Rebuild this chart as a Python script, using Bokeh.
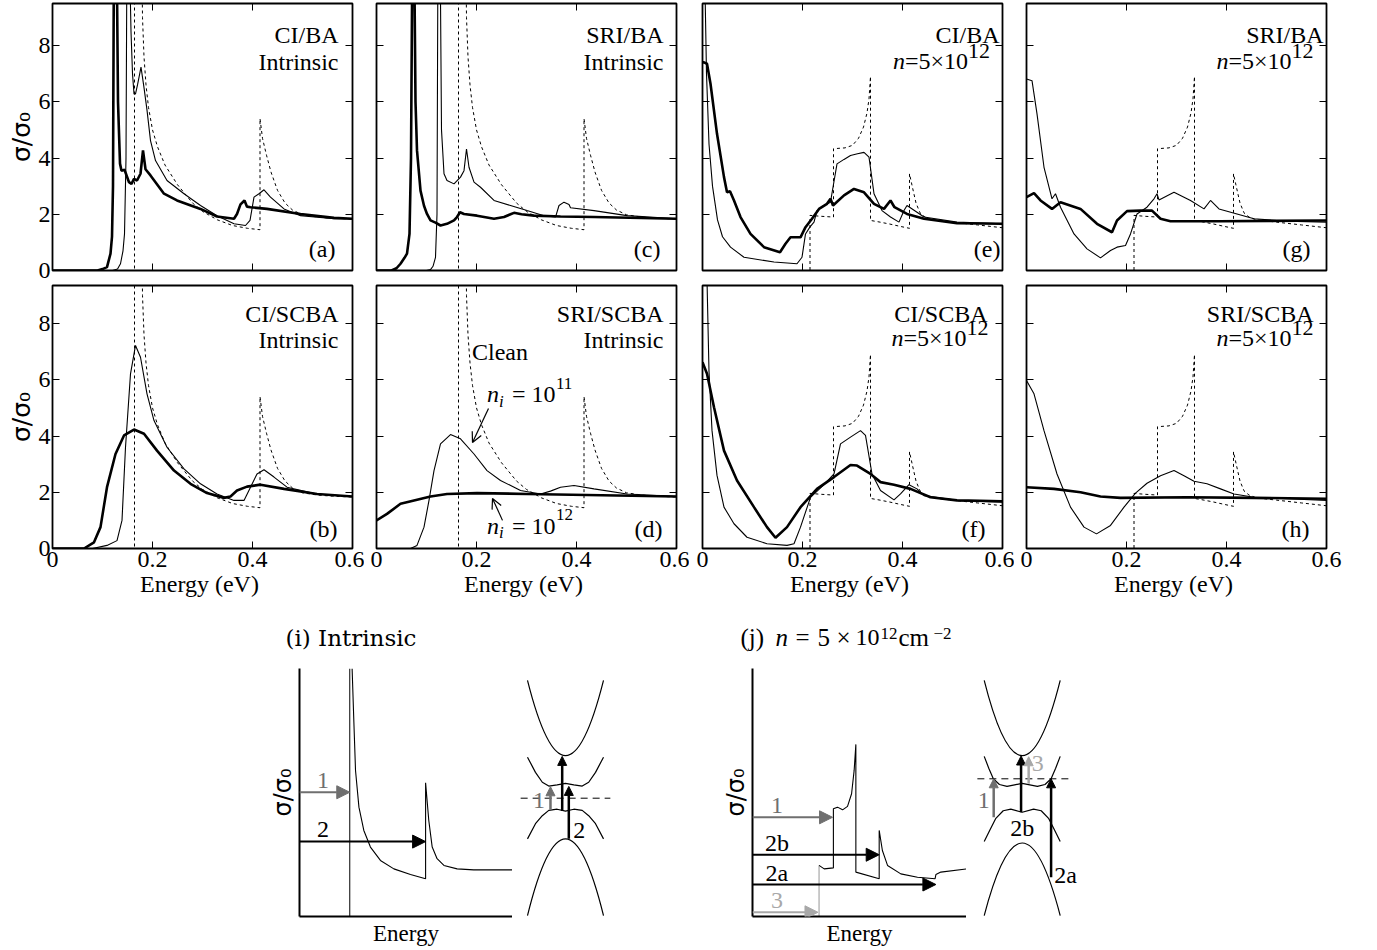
from bokeh.plotting import figure
from bokeh.models import (LinearAxis, FixedTicker, Range1d, Arrow, NormalHead, OpenHead,
                          Label, Spacer, CustomJSTickFormatter)
from bokeh.layouts import row, column
from bokeh.embed import file_html
from bokeh.resources import INLINE

SERIF = "Liberation Serif"
TSERIF = "DejaVu Serif"
SANS = "DejaVu Sans"
GRAY1 = "#6f6f6f"
GRAY3 = "#a8a8a8"

# ---------------------------------------------------------------- data
energy_ticks = [0, 0.2, 0.4, 0.6]
sigma_ticks = [0, 2, 4, 6, 8]

# clean (dashed) curves
clean_int_x = [0.0, 0.164, 0.164, 0.178, 0.178, 0.180, 0.183, 0.187, 0.192, 0.200, 0.210, 0.225, 0.250,
               0.280, 0.300, 0.330, 0.360, 0.390, 0.415, 0.415, 0.420, 0.428, 0.437, 0.450, 0.465, 0.480,
               0.500, 0.530, 0.560, 0.600]
clean_int_y = [0.0, 0.0, 12.0, 12.0, 12.0, 9.0, 7.6, 6.6, 5.8, 5.0, 4.4, 3.75, 3.05,
               2.4, 2.1, 1.8, 1.6, 1.5, 1.45, 5.4, 4.7, 4.1, 3.5, 2.85, 2.4, 2.15,
               1.98, 1.9, 1.86, 1.83]
clean_dop_x = [0.0, 0.215, 0.215, 0.235, 0.262, 0.262, 0.285, 0.300, 0.312, 0.322, 0.329, 0.333, 0.336,
               0.336, 0.355, 0.375, 0.395, 0.414, 0.414, 0.420, 0.427, 0.435, 0.445, 0.460, 0.500, 0.550, 0.600]
clean_dop_y = [0.0, 0.0, 1.96, 1.93, 1.90, 4.33, 4.36, 4.45, 4.7, 5.1, 5.6, 6.1, 6.9,
               1.78, 1.72, 1.65, 1.57, 1.50, 3.44, 2.95, 2.4, 2.05, 1.9, 1.8, 1.72, 1.62, 1.52]

# (a) CI/BA intrinsic
a_thick_x = [0, 0.09, 0.1, 0.109, 0.116, 0.119, 0.121, 0.123, 0.128, 0.131, 0.135, 0.138, 0.144, 0.153,
             0.158, 0.163, 0.169, 0.176, 0.181, 0.186, 0.196, 0.206, 0.223, 0.249, 0.296, 0.329, 0.363,
             0.369, 0.376, 0.384, 0.389, 0.396, 0.429, 0.496, 0.563, 0.6]
a_thick_y = [0, 0, 0.05, 0.12, 0.6, 1.2, 3.0, 12, 12, 6.0, 3.8, 3.55, 3.58, 3.14,
             3.08, 3.26, 3.2, 3.44, 4.27, 3.6, 3.38, 3.14, 2.73, 2.49, 2.19, 1.92, 1.84,
             2.01, 2.35, 2.49, 2.27, 2.25, 2.19, 2.01, 1.87, 1.84]
a_thin_x = [0, 0.12, 0.13, 0.136, 0.141, 0.144, 0.147, 0.149, 0.153, 0.157, 0.16, 0.163, 0.166, 0.17,
            0.173, 0.177, 0.183, 0.189, 0.196, 0.206, 0.229, 0.263, 0.296, 0.329, 0.363, 0.386, 0.395,
            0.403, 0.413, 0.423, 0.436, 0.463, 0.496, 0.563, 0.6]
a_thin_y = [0, 0, 0.05, 0.24, 0.7, 1.3, 4.0, 12, 12, 8.5, 7.0, 6.28, 6.28, 6.6,
            6.87, 7.23, 6.5, 5.7, 4.62, 3.91, 3.2, 2.73, 2.31, 1.95, 1.66, 1.6, 1.78,
            2.61, 2.73, 2.87, 2.61, 2.19, 1.95, 1.84, 1.84]

# (c) SRI/BA intrinsic
c_thick_x = [0, 0.03, 0.04, 0.048, 0.056, 0.061, 0.066, 0.069, 0.072, 0.075, 0.078, 0.081, 0.088, 0.095,
             0.101, 0.108, 0.118, 0.128, 0.141, 0.155, 0.161, 0.167, 0.175, 0.201, 0.235, 0.255, 0.268,
             0.275, 0.29, 0.315, 0.368, 0.435, 0.6]
c_thick_y = [0, 0, 0.08, 0.24, 0.45, 0.6, 1.3, 4.0, 12, 12, 6.0, 4.27, 2.84, 2.3,
             2.01, 1.78, 1.7, 1.6, 1.66, 1.78, 1.9, 2.07, 2.01, 1.95, 1.84, 1.9, 2.0,
             2.05, 2.0, 1.95, 1.92, 1.9, 1.84]
c_thin_x = [0, 0.1, 0.108, 0.113, 0.118, 0.121, 0.123, 0.127, 0.13, 0.135, 0.141, 0.155, 0.168, 0.175,
            0.18, 0.185, 0.195, 0.208, 0.235, 0.268, 0.301, 0.335, 0.358, 0.365, 0.375, 0.385, 0.388,
            0.435, 0.501, 0.6]
c_thin_y = [0, 0, 0.03, 0.15, 0.47, 2.0, 12, 12, 5.0, 3.44, 3.2, 3.08, 3.32, 3.55,
            4.32, 3.67, 3.14, 2.96, 2.49, 2.31, 2.13, 1.95, 1.9, 2.31, 2.43, 2.35, 2.23,
            2.13, 1.95, 1.84]

# (e) CI/BA doped
e_thick_x = [0.0, 0.003, 0.009, 0.016, 0.029, 0.043, 0.049, 0.055, 0.063, 0.076, 0.096, 0.123, 0.155,
             0.166, 0.176, 0.196, 0.206, 0.219, 0.233, 0.249, 0.256, 0.261, 0.283, 0.303, 0.323, 0.343,
             0.363, 0.376, 0.384, 0.409, 0.443, 0.509, 0.6]
e_thick_y = [7.4, 7.4, 7.35, 6.64, 4.86, 3.32, 2.78, 2.82, 2.49, 1.9, 1.3, 0.83, 0.65,
             0.95, 1.18, 1.18, 1.54, 1.84, 2.19, 2.37, 2.55, 2.31, 2.67, 2.9, 2.78, 2.37,
             2.19, 2.49, 2.25, 2.01, 1.84, 1.68, 1.66]
e_thin_x = [0.003, 0.008, 0.013, 0.02, 0.03, 0.04, 0.056, 0.083, 0.143, 0.189, 0.199, 0.206, 0.215,
            0.223, 0.229, 0.243, 0.256, 0.261, 0.269, 0.283, 0.296, 0.31, 0.323, 0.333, 0.343, 0.359,
            0.376, 0.393, 0.403, 0.409, 0.429, 0.443, 0.509, 0.6]
e_thin_y = [12, 7.0, 4.5, 3.0, 1.8, 1.2, 0.83, 0.47, 0.3, 0.24, 0.47, 1.3, 1.55,
            1.72, 2.13, 2.31, 2.43, 2.96, 3.79, 3.95, 4.09, 4.15, 4.2, 4.03, 2.73, 2.13,
            1.9, 1.72, 2.13, 2.31, 2.07, 1.9, 1.72, 1.66]

# (g) SRI/BA doped
g_thick_x = [0.0, 0.015, 0.028, 0.051, 0.068, 0.108, 0.141, 0.171, 0.181, 0.201, 0.228, 0.251, 0.268,
             0.288, 0.388, 0.6]
g_thick_y = [2.61, 2.75, 2.49, 2.19, 2.43, 2.19, 1.66, 1.36, 1.78, 2.11, 2.13, 2.13, 1.84,
             1.75, 1.75, 1.78]
g_thin_x = [0.0, 0.011, 0.021, 0.035, 0.051, 0.058, 0.068, 0.095, 0.121, 0.148, 0.168, 0.181, 0.198,
            0.208, 0.221, 0.241, 0.255, 0.261, 0.265, 0.295, 0.328, 0.355, 0.368, 0.385, 0.421, 0.455,
            0.521, 0.6]
g_thin_y = [6.81, 6.75, 5.57, 3.67, 2.55, 2.73, 2.25, 1.3, 0.77, 0.45, 0.71, 0.83, 0.89,
            1.3, 2.01, 2.25, 2.55, 2.73, 2.51, 2.78, 2.49, 2.19, 2.49, 2.19, 2.01, 1.84,
            1.75, 1.72]

# (b) CI/SCBA intrinsic
b_thick_x = [0, 0.063, 0.083, 0.096, 0.109, 0.126, 0.143, 0.163, 0.183, 0.209, 0.243, 0.276, 0.309,
             0.343, 0.356, 0.369, 0.389, 0.416, 0.463, 0.529, 0.6]
b_thick_y = [0, 0, 0.22, 0.76, 2.18, 3.36, 4.02, 4.23, 4.08, 3.48, 2.77, 2.3, 1.97,
             1.8, 1.85, 2.06, 2.2, 2.27, 2.12, 1.94, 1.85]
b_thin_x = [0, 0.08, 0.109, 0.129, 0.139, 0.146, 0.156, 0.166, 0.176, 0.189, 0.203, 0.229, 0.263,
            0.296, 0.329, 0.363, 0.383, 0.396, 0.409, 0.423, 0.443, 0.469, 0.529, 0.6]
b_thin_y = [0, 0, 0.11, 0.28, 1.0, 3.6, 6.21, 7.22, 6.8, 5.5, 4.55, 3.6, 2.83,
            2.3, 1.94, 1.71, 1.71, 2.18, 2.65, 2.8, 2.54, 2.18, 1.94, 1.85]

# (d) SRI/SCBA intrinsic
d_thick_x = [0, 0.021, 0.048, 0.075, 0.108, 0.141, 0.201, 0.301, 0.6]
d_thick_y = [1.0, 1.23, 1.59, 1.71, 1.85, 1.94, 1.97, 1.94, 1.85]
d_thin_x = [0, 0.068, 0.081, 0.095, 0.105, 0.115, 0.128, 0.148, 0.168, 0.195, 0.221, 0.248, 0.288,
            0.328, 0.348, 0.368, 0.395, 0.435, 0.501, 0.6]
d_thin_y = [0, 0, 0.11, 0.76, 1.71, 2.77, 3.72, 4.05, 3.9, 3.36, 2.77, 2.42, 2.06,
            1.94, 2.04, 2.18, 2.24, 2.12, 1.94, 1.85]

# (f) CI/SCBA doped
f_thick_x = [0, 0.009, 0.023, 0.043, 0.069, 0.103, 0.129, 0.146, 0.169, 0.196, 0.229, 0.263, 0.296,
             0.309, 0.336, 0.356, 0.383, 0.416, 0.456, 0.509, 0.6]
f_thick_y = [6.62, 6.21, 5.02, 3.48, 2.42, 1.47, 0.76, 0.38, 0.76, 1.47, 2.12, 2.54, 2.97,
             2.95, 2.65, 2.36, 2.27, 2.12, 1.82, 1.71, 1.68]
f_thin_x = [0.006, 0.013, 0.019, 0.029, 0.043, 0.063, 0.089, 0.129, 0.169, 0.183, 0.196, 0.216, 0.243,
            0.263, 0.276, 0.296, 0.316, 0.326, 0.339, 0.356, 0.383, 0.396, 0.413, 0.429, 0.443, 0.509, 0.6]
f_thin_y = [12, 6.3, 4.2, 2.6, 1.47, 0.88, 0.4, 0.17, 0.11, 0.17, 0.76, 1.82, 2.27,
            2.65, 3.72, 3.96, 4.19, 4.02, 2.65, 2.06, 1.73, 1.94, 2.27, 2.12, 1.88, 1.71, 1.65]

# (h) SRI/SCBA doped
h_thick_x = [0, 0.055, 0.108, 0.148, 0.188, 0.321, 0.455, 0.6]
h_thick_y = [2.18, 2.12, 2.0, 1.85, 1.8, 1.82, 1.8, 1.77]
h_thin_x = [0, 0.015, 0.035, 0.061, 0.088, 0.115, 0.14, 0.168, 0.195, 0.218, 0.241, 0.268, 0.295,
            0.315, 0.335, 0.361, 0.388, 0.415, 0.455, 0.521, 0.6]
h_thin_y = [5.97, 5.5, 4.19, 2.65, 1.47, 0.76, 0.52, 0.82, 1.47, 1.97, 2.32, 2.59, 2.77,
            2.59, 2.39, 2.3, 2.12, 1.94, 1.82, 1.77, 1.71]

# schematic (i): sigma vs energy (normalised units)
si_delta_x = [0.236, 0.236]
si_delta_y = [0.0, 1.0]
si_curve_x = [0.247, 0.255, 0.263, 0.279, 0.302, 0.333, 0.38, 0.443, 0.521, 0.592, 0.592, 0.607, 0.623,
              0.646, 0.678, 0.74, 0.818, 1.0]
si_curve_y = [1.0, 0.79, 0.589, 0.441, 0.347, 0.28, 0.226, 0.192, 0.169, 0.152, 0.539, 0.387, 0.28,
              0.233, 0.206, 0.192, 0.188, 0.188]
si_arrow_y = [0.501, 0.302]
si_arrow_end = [0.236, 0.592]
si_arrow_lbl = ["1", "2"]
si_arrow_col = [GRAY1, "black"]

# schematic (j)
sj_step_x = [0.311, 0.311]
sj_step_y = [0.0, 0.206]
sj_curve_x = [0.311, 0.335, 0.378, 0.378, 0.397, 0.421, 0.444, 0.463, 0.475, 0.483, 0.483, 0.592, 0.592,
              0.607, 0.631, 0.693, 0.771, 0.853, 0.857, 0.88, 1.0]
sj_curve_y = [0.206, 0.192, 0.196, 0.434, 0.441, 0.43, 0.444, 0.495, 0.589, 0.694, 0.179, 0.152, 0.347,
              0.266, 0.206, 0.172, 0.158, 0.152, 0.169, 0.179, 0.192]
sj_arrow_y = [0.4, 0.249, 0.129, 0.017]
sj_arrow_end = [0.374, 0.592, 0.857, 0.306]
sj_arrow_lbl = ["1", "2b", "2a", "3"]
sj_arrow_col = [GRAY1, "black", "black", GRAY3]

# band diagrams (k, E)
bi_mid_k = [-1.0, -0.79, -0.61, -0.44, -0.22, 0.0, 0.22, 0.44, 0.61, 0.79, 1.0]
bi_cond2_E = [1.08, 0.68, 0.42, 0.32, 0.35, 0.39, 0.35, 0.32, 0.42, 0.68, 1.08]
bi_val2_E = [-1.07, -0.67, -0.46, -0.32, -0.29, -0.34, -0.29, -0.32, -0.46, -0.67, -1.07]
bi_cond1 = dict(end_k=1.0, end_E=3.1, ctrl_E=-0.86)
bi_val1 = dict(end_k=1.0, end_E=-3.09, ctrl_E=0.95)

bj_cond2_k = [-1.0, -0.88, -0.76, -0.6, -0.4, -0.2, 0.0, 0.2, 0.4, 0.6, 0.76, 0.88, 1.0]
bj_cond2_E = [0.59, 0.28, 0.0, -0.15, -0.2, -0.16, -0.12, -0.16, -0.2, -0.15, 0.0, 0.28, 0.59]
bj_val2_k = [-1.0, -0.85, -0.7, -0.5, -0.3, 0.0, 0.3, 0.5, 0.7, 0.85, 1.0]
bj_val2_E = [-1.65, -1.35, -1.05, -0.84, -0.8, -0.88, -0.8, -0.84, -1.05, -1.35, -1.65]
bj_cond1 = dict(end_k=1.0, end_E=2.59, ctrl_E=-1.37)
bj_val1 = dict(end_k=1.0, end_E=-3.6, ctrl_E=0.22)

# ---------------------------------------------------------------- helpers
PX_X = 500.0     # px per eV
PX_Y = 28.125    # px per sigma unit


def tick_style(ax, show, fmt=None):
    ax.major_tick_in = 7
    ax.major_tick_out = 0
    ax.major_tick_line_color = "black"
    ax.major_tick_line_width = 1
    ax.minor_tick_line_color = None
    ax.axis_line_color = None
    if show:
        ax.major_label_text_font = SERIF
        ax.major_label_text_font_size = "24px"
        ax.major_label_text_color = "black"
        ax.major_label_standoff = 3
        if fmt:
            ax.formatter = CustomJSTickFormatter(code=fmt)
    else:
        ax.major_label_text_font_size = "0px"
        ax.major_label_standoff = 0
        ax.formatter = CustomJSTickFormatter(code="return ''")


def lab(p, x, y, text, size="24px", align="right", style="normal", color="black", font=SERIF):
    p.add_layout(Label(x=x, y=y, text=text, text_font=font, text_font_size=size, text_align=align,
                       text_baseline="middle", text_font_style=style, text_color=color))


def panel(clean_x, clean_y, thin_x, thin_y, thick_x, thick_y, top, left_labels, mb_left, mb_right):
    fh = 267 if top else 263
    p = figure(frame_width=300, frame_height=fh, x_range=Range1d(0, 0.6),
               y_range=Range1d(0, fh / PX_Y), x_axis_location=None, y_axis_location=None,
               output_backend="svg", toolbar_location=None,
               min_border_left=mb_left, min_border_right=mb_right,
               min_border_top=3 if top else 1, min_border_bottom=14 if top else 64)
    p.outline_line_color = "black"
    p.outline_line_width = 1.8
    p.grid.grid_line_color = None
    xb = LinearAxis(ticker=FixedTicker(ticks=energy_ticks, minor_ticks=[]))
    xt = LinearAxis(ticker=FixedTicker(ticks=energy_ticks, minor_ticks=[]))
    yl = LinearAxis(ticker=FixedTicker(ticks=sigma_ticks, minor_ticks=[]))
    yr = LinearAxis(ticker=FixedTicker(ticks=sigma_ticks, minor_ticks=[]))
    tick_style(xb, not top, "return tick == 0 ? '0' : tick.toFixed(1)")
    tick_style(xt, False)
    tick_style(yl, left_labels, "return tick.toFixed(0)")
    tick_style(yr, False)
    if left_labels:
        yl.major_label_standoff = 2
    if not top:
        xb.axis_label = "Energy  (eV)"
        xb.axis_label_text_font = SERIF
        xb.axis_label_text_font_size = "24px"
        xb.axis_label_text_font_style = "normal"
        xb.axis_label_text_color = "black"
        xb.axis_label_standoff = 1
    if left_labels:
        yl.axis_label = "σ/σ₀"
        yl.axis_label_text_font = SANS
        yl.axis_label_text_font_size = "25px"
        yl.axis_label_text_font_style = "normal"
        yl.axis_label_text_color = "black"
        yl.axis_label_standoff = 0
    p.add_layout(xb, "below")
    p.add_layout(xt, "above")
    p.add_layout(yl, "left")
    p.add_layout(yr, "right")
    p.line(clean_x, clean_y, line_color="black", line_width=1, line_dash="3 3")
    p.line(thin_x, thin_y, line_color="black", line_width=1.1)
    p.line(thick_x, thick_y, line_color="black", line_width=2.6)
    return p


def head_labels(p, top, right, l1, l2, letter, letter_right, doped, n_right=None):
    y0 = 270.0 if top else 548.0
    c1, c2, cl = (34, 61, 248) if top else (313, 339, 528)
    lab(p, right, (y0 - c1) / PX_Y, l1)
    if not doped:
        lab(p, right, (y0 - c2) / PX_Y, l2)
    else:
        cn = 60 if top else 337
        lab(p, n_right, (y0 - cn + 10) / PX_Y, "12", size="22px")
        lab(p, n_right - 22 / PX_X, (y0 - cn) / PX_Y, "=5×10")
        lab(p, n_right - 85 / PX_X, (y0 - cn) / PX_Y, "n", style="italic")
    lab(p, letter_right, (y0 - cl) / PX_Y, letter)


# ---------------------------------------------------------------- panels
pa = panel(clean_int_x, clean_int_y, a_thin_x, a_thin_y, a_thick_x, a_thick_y, True, True, 52, 12)
pc = panel(clean_int_x, clean_int_y, c_thin_x, c_thin_y, c_thick_x, c_thick_y, True, False, 12, 13)
pe = panel(clean_dop_x, clean_dop_y, e_thin_x, e_thin_y, e_thick_x, e_thick_y, True, False, 13, 12)
pg = panel(clean_dop_x, clean_dop_y, g_thin_x, g_thin_y, g_thick_x, g_thick_y, True, False, 12, 35)
pb = panel(clean_int_x, clean_int_y, b_thin_x, b_thin_y, b_thick_x, b_thick_y, False, True, 52, 12)
pd = panel(clean_int_x, clean_int_y, d_thin_x, d_thin_y, d_thick_x, d_thick_y, False, False, 12, 13)
pf = panel(clean_dop_x, clean_dop_y, f_thin_x, f_thin_y, f_thick_x, f_thick_y, False, False, 13, 12)
ph = panel(clean_dop_x, clean_dop_y, h_thin_x, h_thin_y, h_thick_x, h_thick_y, False, False, 12, 35)

head_labels(pa, True, 0.572, "CI/BA", "Intrinsic", "(a)", 0.566, False)
head_labels(pc, True, 0.574, "SRI/BA", "Intrinsic", "(c)", 0.568, False)
head_labels(pe, True, 0.594, "CI/BA", None, "(e)", 0.596, True, 0.575)
head_labels(pg, True, 0.594, "SRI/BA", None, "(g)", 0.568, True, 0.574)
head_labels(pb, False, 0.572, "CI/SCBA", "Intrinsic", "(b)", 0.570, False)
head_labels(pd, False, 0.574, "SRI/SCBA", "Intrinsic", "(d)", 0.572, False)
head_labels(pf, False, 0.570, "CI/SCBA", None, "(f)", 0.566, True, 0.572)
head_labels(ph, False, 0.574, "SRI/SCBA", None, "(h)", 0.566, True, 0.574)

# annotations in (d)
lab(pd, 0.191, 6.97, "Clean", align="left")
for nx, ny, exp in ((0.221, 5.48, "11"), (0.221, 0.81, "12")):
    lab(pd, nx, ny, "n", align="left", style="italic")
    lab(pd, nx + 12 / PX_X, ny - 7 / PX_Y, "i", align="left", style="italic", size="17px")
    lab(pd, nx + 25 / PX_X, ny, "= 10", align="left")
    lab(pd, nx + 69 / PX_X, ny + 11 / PX_Y, exp, align="left", size="17px")
pd.add_layout(Arrow(x_start=0.224, y_start=4.98, x_end=0.192, y_end=3.77, line_width=1.2,
                    end=OpenHead(size=10, line_width=1.2)))
pd.add_layout(Arrow(x_start=0.252, y_start=1.0, x_end=0.232, y_end=1.78, line_width=1.2,
                    end=OpenHead(size=10, line_width=1.2)))


# ---------------------------------------------------------------- schematics
def schem_sigma(frame_w):
    p = figure(frame_width=frame_w, frame_height=248, x_range=Range1d(0, 1), y_range=Range1d(0, 1),
               min_border_left=37, min_border_right=0, min_border_top=10, min_border_bottom=24,
               output_backend="svg", toolbar_location=None)
    p.outline_line_color = None
    p.grid.grid_line_color = None
    for ax in p.axis:
        ax.ticker = FixedTicker(ticks=[])
        ax.major_tick_line_color = None
        ax.minor_tick_line_color = None
        ax.major_label_text_font_size = "0px"
        ax.major_label_standoff = 0
        ax.axis_line_width = 2
        ax.axis_line_color = "black"
        ax.axis_label_text_font_style = "normal"
        ax.axis_label_text_color = "black"
    p.xaxis.axis_label = "Energy"
    p.xaxis.axis_label_text_font = SERIF
    p.xaxis.axis_label_text_font_size = "23px"
    p.xaxis.axis_label_standoff = 4
    p.yaxis.axis_label = "σ/σ₀"
    p.yaxis.axis_label_text_font = SANS
    p.yaxis.axis_label_text_font_size = "24px"
    p.yaxis.axis_label_standoff = 3
    return p


def schem_band(frame_w, krange, erange, mb_left):
    p = figure(frame_width=frame_w, frame_height=254, x_range=Range1d(*krange), y_range=Range1d(*erange),
               x_axis_location=None, y_axis_location=None, min_border_left=mb_left, min_border_right=0,
               min_border_top=10, min_border_bottom=0, output_backend="svg", toolbar_location=None)
    p.outline_line_color = None
    p.grid.grid_line_color = None
    return p


def arrow(p, x0, y0, x1, y1, color, width, size):
    p.add_layout(Arrow(x_start=x0, y_start=y0, x_end=x1, y_end=y1, line_color=color, line_width=width,
                       end=NormalHead(size=size, fill_color=color, line_color=color, line_width=1)))


def quad_band(p, band):
    k, e, c = band["end_k"], band["end_E"], band["ctrl_E"]
    p.quadratic(x0=[-k], y0=[e], x1=[k], y1=[e], cx=[0], cy=[c], line_color="black", line_width=1.2)


# title strip for the schematics (pixel-like units)
strip = figure(frame_width=1100, frame_height=46, x_range=Range1d(0, 1100), y_range=Range1d(0, 46),
               x_axis_location=None, y_axis_location=None, min_border_left=0, min_border_right=0,
               min_border_top=0, min_border_bottom=0, output_backend="svg", toolbar_location=None)
strip.outline_line_color = None
strip.grid.grid_line_color = None
TY = 21
lab(strip, 285, TY, "(i) Intrinsic", align="left", font=TSERIF, size="23px")
lab(strip, 740, TY, "(j)", align="left", size="25px")
lab(strip, 775, TY, "n", align="left", style="italic", size="25px")
lab(strip, 795, TY, "=", align="left", size="25px")
lab(strip, 817, TY, "5", align="left", size="25px")
lab(strip, 836, TY, "×", align="left", size="25px")
lab(strip, 855, TY, "10", align="left", size="24px")
lab(strip, 880, TY + 4, "12", align="left", size="17px")
lab(strip, 898, TY, "cm", align="left", size="25px")
lab(strip, 933, TY + 4, "−2", align="left", size="17px")

# (i) sigma
si = schem_sigma(213)
si.line(si_delta_x, si_delta_y, line_color="black", line_width=1)
si.line(si_curve_x, si_curve_y, line_color="black", line_width=1.1)
for yy, xe, tx, col in zip(si_arrow_y, si_arrow_end, si_arrow_lbl, si_arrow_col):
    arrow(si, 0, yy, xe, yy, col, 2, 13)
    lab(si, 0.11, yy + 0.047, tx, align="center", color=col)

# (i) bands
bi = schem_band(98, (-1.289, 1.289), (-3.271, 3.413), 4)
quad_band(bi, bi_cond1)
quad_band(bi, bi_val1)
bi.line(bi_mid_k, bi_cond2_E, line_color="black", line_width=1.2)
bi.line(bi_mid_k, bi_val2_E, line_color="black", line_width=1.2)
bi.line([-1.18, 1.18], [0, 0], line_color="black", line_width=1, line_dash="7 5")
arrow(bi, 0.087, -1.07, 0.087, 0.31, "black", 2.5, 9)
arrow(bi, -0.087, -0.34, -0.087, 1.1, "black", 2.5, 9)
arrow(bi, -0.395, -0.3, -0.395, 0.3, GRAY1, 2.5, 9)
lab(bi, -0.7, -0.06, "1", align="center", color=GRAY1)
lab(bi, 0.36, -0.85, "2", align="center")

# (j) sigma
sj = schem_sigma(214)
sj.line(sj_step_x, sj_step_y, line_color=GRAY3, line_width=1.2)
sj.line(sj_curve_x, sj_curve_y, line_color="black", line_width=1.1)
for yy, xe, tx, col in zip(sj_arrow_y, sj_arrow_end, sj_arrow_lbl, sj_arrow_col):
    arrow(sj, 0, yy, xe, yy, col, 2, 13)
    lab(sj, 0.114, yy + 0.048, tx, align="center", color=col)

# (j) bands
bj = schem_band(118, (-1.308, 1.797), (-3.782, 2.903), 6)
quad_band(bj, bj_cond1)
quad_band(bj, bj_val1)
bj.line(bj_cond2_k, bj_cond2_E, line_color="black", line_width=1.2)
bj.line(bj_val2_k, bj_val2_E, line_color="black", line_width=1.2)
bj.line([-1.18, 1.23], [0, 0], line_color="black", line_width=1, line_dash="7 5")
arrow(bj, -0.75, -1.01, -0.75, 0.0, GRAY1, 2.5, 9)
arrow(bj, -0.03, -0.88, -0.03, 0.6, "black", 2.5, 9)
arrow(bj, 0.17, -0.13, 0.17, 0.58, GRAY3, 2.5, 9)
arrow(bj, 0.76, -2.59, 0.76, 0.0, "black", 2.5, 9)
lab(bj, -1.01, -0.57, "1", align="center", color=GRAY1)
lab(bj, 0.0, -1.3, "2b", align="center")
lab(bj, 0.41, 0.39, "3", align="center", color=GRAY3)
lab(bj, 1.14, -2.54, "2a", align="center")

# ---------------------------------------------------------------- layout
top_row = row(pa, pc, pe, pg)
mid_row = row(pb, pd, pf, ph)
bot_row = row(Spacer(width=262, height=10), si, bi, Spacer(width=101, height=10), sj, bj)
layout = column(top_row, mid_row, strip, bot_row)

open("out.html", "w").write(file_html(layout, INLINE, "Optical conductivity"))
